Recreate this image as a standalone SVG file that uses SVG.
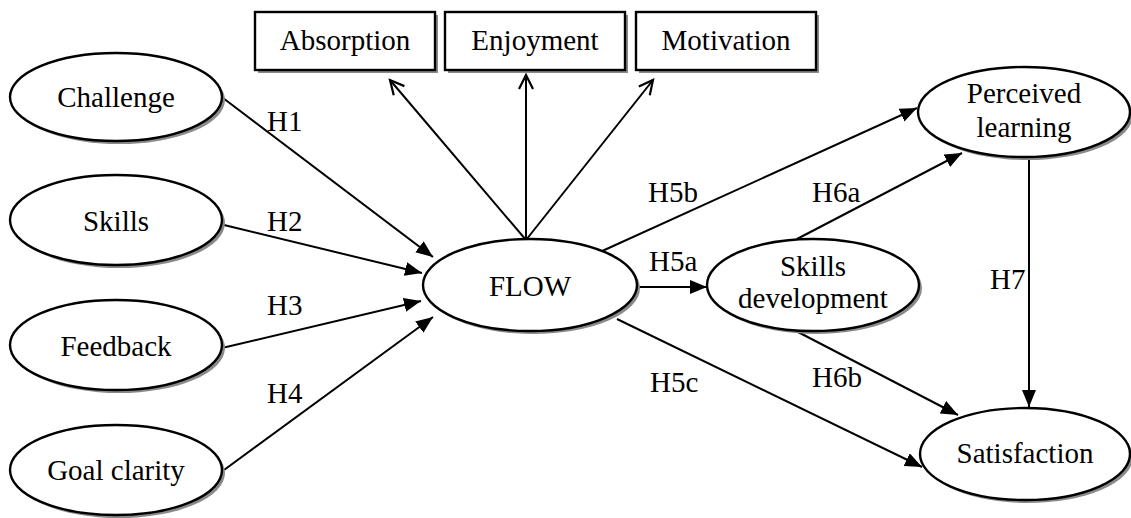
<svg xmlns="http://www.w3.org/2000/svg" width="1131" height="518" viewBox="0 0 1131 518">
  <defs>
    <style>
      .shape { fill: #ffffff; stroke: #000000; stroke-width: 2.4; }
      .shadow { fill: #8a8a8a; stroke: none; }
      text { font-family: "Liberation Serif", "Times New Roman", serif; font-size: 29px; fill: #000000; }
      .lbl { text-anchor: middle; }
      .edge { fill: none; stroke: #000000; stroke-width: 2; }
      .solid { marker-end: url(#arrowFilled); }
      .open { marker-end: url(#arrowOpen); }
    </style>
    <marker id="arrowFilled" markerUnits="userSpaceOnUse" markerWidth="20" markerHeight="16" refX="17" refY="7" orient="auto" viewBox="0 0 20 16">
      <path d="M0,0 L17,7 L0,14 Z" fill="#000000"/>
    </marker>
    <marker id="arrowOpen" markerUnits="userSpaceOnUse" markerWidth="22" markerHeight="20" refX="16" refY="9" orient="auto" viewBox="0 0 22 20">
      <path d="M2,2 L16,9 L2,16" fill="none" stroke="#000000" stroke-width="2.2"/>
    </marker>
  </defs>

  <!-- connectors and hypothesis labels -->
  <g id="connectors">
    <line class="edge solid" x1="223" y1="98" x2="433" y2="257"/>
    <line class="edge solid" x1="224" y1="225" x2="422" y2="273"/>
    <line class="edge solid" x1="222" y1="348" x2="421" y2="301"/>
    <line class="edge solid" x1="224" y1="470" x2="433" y2="317"/>

    <line class="edge open" x1="526" y1="240" x2="390" y2="80"/>
    <line class="edge open" x1="526" y1="240" x2="526" y2="75"/>
    <line class="edge open" x1="526" y1="240" x2="653" y2="80"/>

    <line class="edge solid" x1="600" y1="252" x2="917" y2="108"/>
    <line class="edge solid" x1="637" y1="287" x2="707" y2="287"/>
    <line class="edge solid" x1="617" y1="319" x2="922" y2="467"/>
    <line class="edge solid" x1="797" y1="239" x2="962" y2="153"/>
    <line class="edge solid" x1="798" y1="332" x2="958" y2="415"/>
    <line class="edge solid" x1="1029" y1="160" x2="1029" y2="407"/>

    <text x="267" y="131">H1</text>
    <text x="267" y="231">H2</text>
    <text x="267" y="315">H3</text>
    <text x="267" y="403">H4</text>
    <text x="648" y="202">H5b</text>
    <text x="649" y="271">H5a</text>
    <text x="650" y="392">H5c</text>
    <text x="812" y="202">H6a</text>
    <text x="812" y="387">H6b</text>
    <text x="990" y="289">H7</text>
  </g>

  <!-- flow indicators -->
  <g id="absorption">
    <rect class="shadow" x="258" y="15" width="180" height="58"/>
    <rect class="shape" x="255" y="12" width="180" height="58"/>
    <text class="lbl" x="345" y="50">Absorption</text>
  </g>
  <g id="enjoyment">
    <rect class="shadow" x="448" y="15" width="180" height="58"/>
    <rect class="shape" x="445" y="12" width="180" height="58"/>
    <text class="lbl" x="535" y="50">Enjoyment</text>
  </g>
  <g id="motivation">
    <rect class="shadow" x="639" y="15" width="180" height="58"/>
    <rect class="shape" x="636" y="12" width="180" height="58"/>
    <text class="lbl" x="726" y="50">Motivation</text>
  </g>

  <!-- antecedents -->
  <g id="challenge">
    <ellipse class="shadow" cx="119" cy="100" rx="106" ry="44"/>
    <ellipse class="shape" cx="116" cy="97" rx="106" ry="44"/>
    <text class="lbl" x="116" y="107">Challenge</text>
  </g>
  <g id="skills">
    <ellipse class="shadow" cx="119" cy="223" rx="106" ry="45"/>
    <ellipse class="shape" cx="116" cy="220" rx="106" ry="45"/>
    <text class="lbl" x="116" y="231">Skills</text>
  </g>
  <g id="feedback">
    <ellipse class="shadow" cx="119" cy="348" rx="106" ry="45"/>
    <ellipse class="shape" cx="116" cy="345" rx="106" ry="45"/>
    <text class="lbl" x="116" y="356">Feedback</text>
  </g>
  <g id="goal-clarity">
    <ellipse class="shadow" cx="119" cy="473" rx="106" ry="45"/>
    <ellipse class="shape" cx="116" cy="470" rx="106" ry="45"/>
    <text class="lbl" x="116" y="480">Goal clarity</text>
  </g>

  <!-- core construct -->
  <g id="flow">
    <ellipse class="shadow" cx="533" cy="288" rx="107" ry="46"/>
    <ellipse class="shape" cx="530" cy="285" rx="107" ry="46"/>
    <text class="lbl" x="530" y="296">FLOW</text>
  </g>

  <!-- outcomes -->
  <g id="skills-development">
    <ellipse class="shadow" cx="816" cy="288" rx="106" ry="46"/>
    <ellipse class="shape" cx="813" cy="285" rx="106" ry="46"/>
    <text class="lbl" x="813" y="276">Skills</text>
    <text class="lbl" x="813" y="308">development</text>
  </g>
  <g id="perceived-learning">
    <ellipse class="shadow" cx="1027" cy="115" rx="106" ry="45"/>
    <ellipse class="shape" cx="1024" cy="112" rx="106" ry="45"/>
    <text class="lbl" x="1024" y="103">Perceived</text>
    <text class="lbl" x="1024" y="137">learning</text>
  </g>
  <g id="satisfaction">
    <ellipse class="shadow" cx="1028" cy="457" rx="105" ry="46"/>
    <ellipse class="shape" cx="1025" cy="454" rx="105" ry="46"/>
    <text class="lbl" x="1025" y="463">Satisfaction</text>
  </g>
</svg>
